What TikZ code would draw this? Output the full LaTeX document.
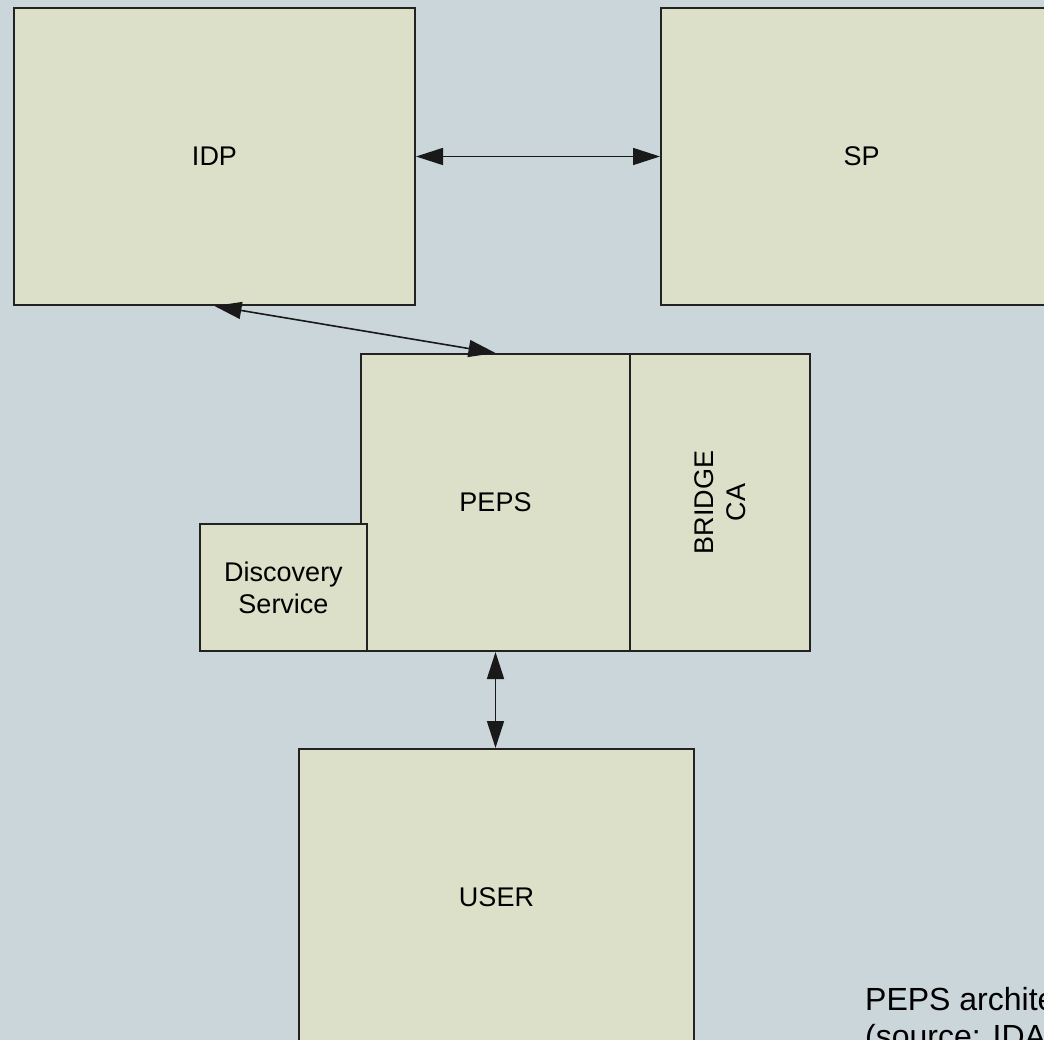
\documentclass[tikz,border=0pt]{standalone}
\usepackage{fontspec}
\setmainfont{Liberation Sans}
\usepackage{xcolor}
\usetikzlibrary{arrows, arrows.meta}
\definecolor{pagebg}{HTML}{CBD6DB}
\definecolor{boxfill}{HTML}{DCE0C9}
\definecolor{boxline}{HTML}{222222}
\tikzset{
	block/.style={rectangle, draw=boxline, fill=boxfill, line width=2pt, inner sep=0pt, font=\fontsize{27}{32}\selectfont},
	link/.style={draw=black!90, line width=1.6pt, {Triangle[length=27pt,width=17pt]}-{Triangle[length=27pt,width=17pt]}},
	caption/.style={inner sep=0pt, align=left, font=\fontsize{32}{37}\selectfont}
}

\begin{document}
\begin{tikzpicture}[x=1pt, y=-1pt]
				\useasboundingbox (0,0) rectangle (1044,1040);
				\clip (0,0) rectangle (1044,1040);
				\fill[pagebg] (0,0) rectangle (1044,1040);
				\node[block, minimum width=401pt, minimum height=297pt] (idp)    at (214.5,156.5){IDP};%
				\node[block, minimum width=401pt, minimum height=297pt] (sp)     at (861.5,156.5){SP};%
				\node[block, minimum width=269pt, minimum height=297pt] (peps)   at (495.5,502.5){PEPS};%
				\node[block, minimum width=180pt, minimum height=297pt] (bridge) at (720,502.5){};%
				\node[rotate=90, align=center, font=\fontsize{27}{32}\selectfont] (bridgetxt) at (bridge.center){BRIDGE\\CA};%
				\node[block, minimum width=167pt, minimum height=127pt, align=center] (disc) at (283.5,587.5){Discovery\\Service};%
				\node[block, minimum width=395pt, minimum height=296pt] (user)   at (496.5,897){USER};%
				\node[caption, anchor=north west] (cap) at (865,987){PEPS architecture\\(source: IDABC)};%
				\draw[link] (idp.east) -- (sp.west);
				\draw[link] (idp.south) -- (peps.north);
				\draw[link] (peps.south) -- (peps.south |- user.north);
			\end{tikzpicture}
\end{document}
